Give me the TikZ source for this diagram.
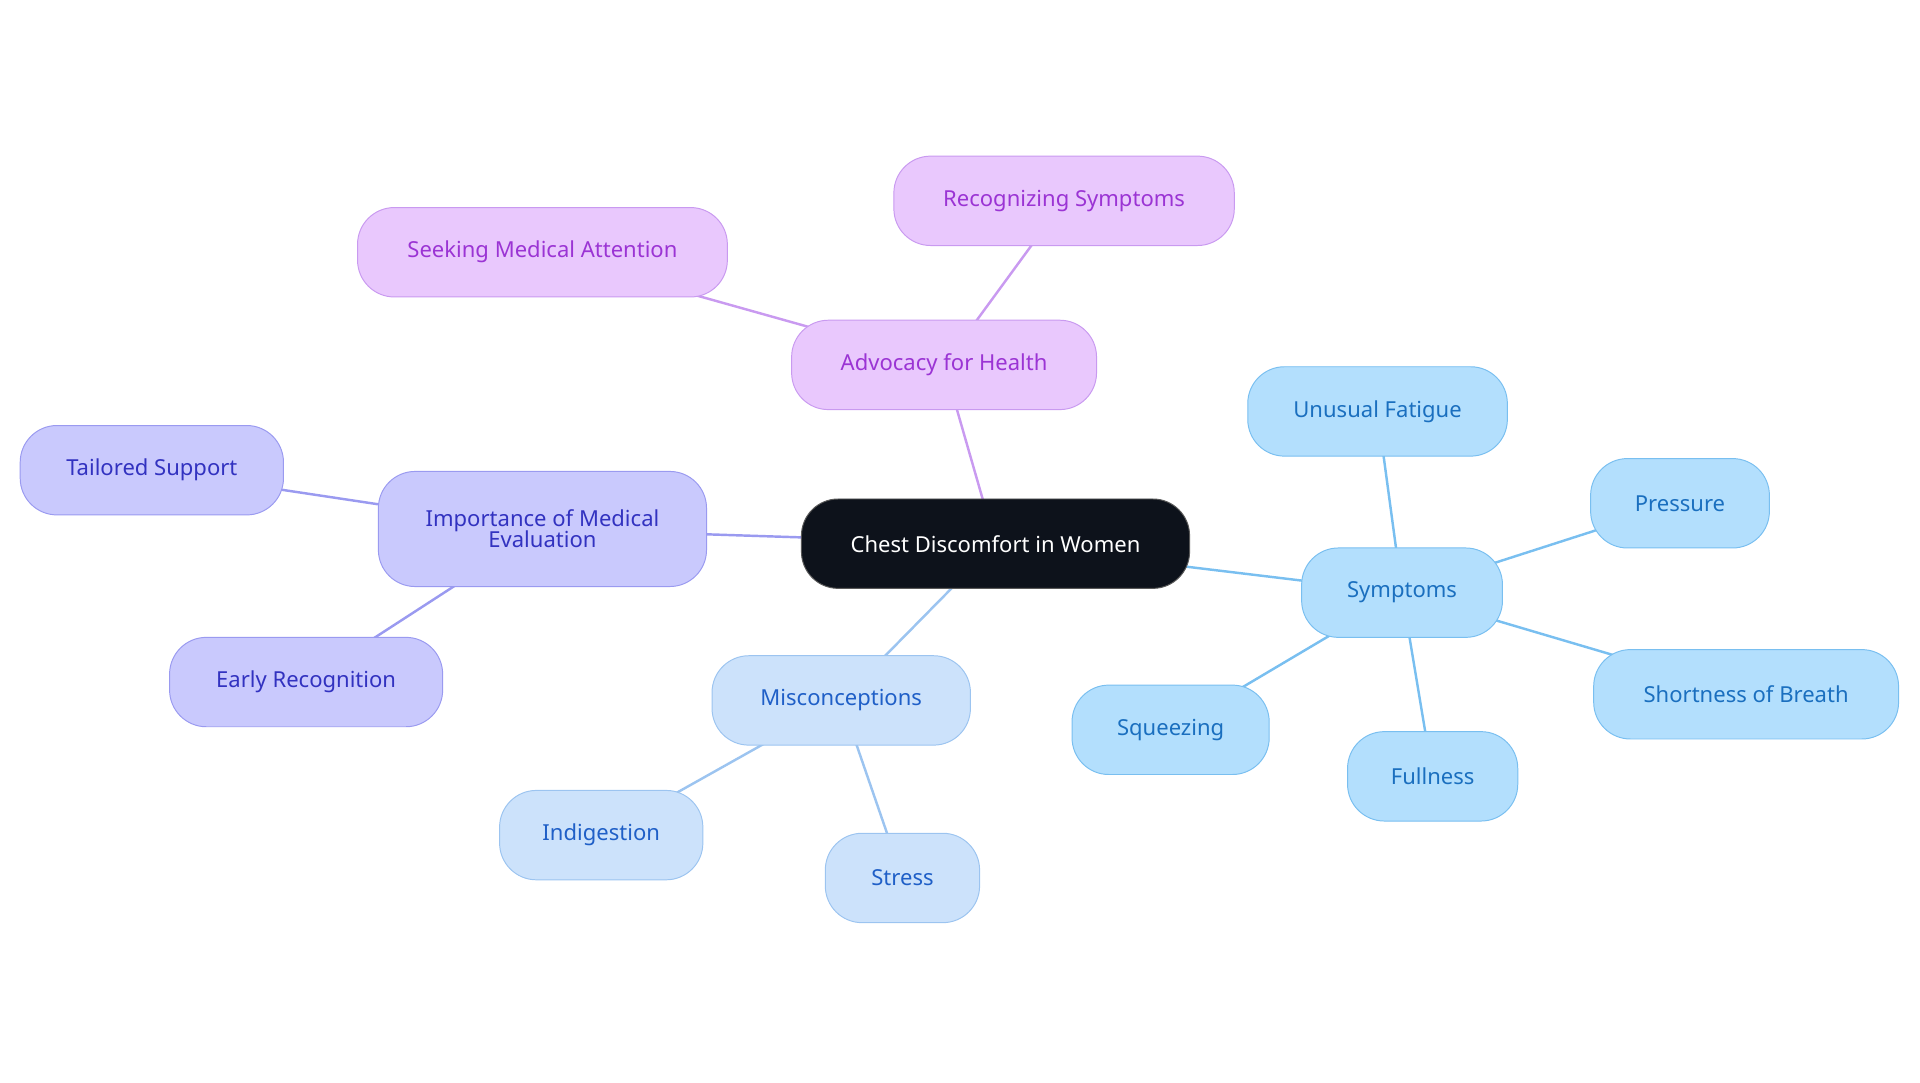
\documentclass[tikz,border=0pt]{standalone}
\usetikzlibrary{backgrounds}
\usepackage{fontspec}
\setmainfont{Noto Sans}
\definecolor{cdark}{HTML}{0D121B}
\definecolor{sfill}{HTML}{B3DFFD}\definecolor{sline}{HTML}{79BFF0}\definecolor{stext}{HTML}{1A6FBF}
\definecolor{mfill}{HTML}{CCE2FB}\definecolor{mline}{HTML}{9CC4F0}\definecolor{mtext}{HTML}{1F5FC7}
\definecolor{ifill}{HTML}{C9C9FD}\definecolor{iline}{HTML}{9A9AF0}\definecolor{itext}{HTML}{3232C0}
\definecolor{afill}{HTML}{E9C8FD}\definecolor{aline}{HTML}{C99AF0}\definecolor{atext}{HTML}{9B34D4}
\begin{document}
\begin{tikzpicture}[x=1pt,y=-1pt,
 base/.style={rounded corners=30pt,minimum height=73pt,font=\fontsize{18}{20}\selectfont,align=center,inner sep=0pt,line width=0.8pt},
 S/.style={base,fill=sfill,draw=sline,text=stext},
 M/.style={base,fill=mfill,draw=mline,text=mtext},
 I/.style={base,fill=ifill,draw=iline,text=itext},
 A/.style={base,fill=afill,draw=aline,text=atext},
 e/.style={line width=2pt}]
\useasboundingbox (0,0) rectangle (1568,884);
\node[base,fill=cdark,draw=gray!70!black,text=white,minimum width=317pt] (c) at (813,444) {Chest Discomfort in Women};
\node[S,minimum width=164pt] (s) at (1145,484) {Symptoms};
\node[S,minimum width=212pt] (s1) at (1125,336) {Unusual Fatigue};
\node[S,minimum width=146pt] (s2) at (1372,411) {Pressure};
\node[S,minimum width=249pt] (s3) at (1426,567) {Shortness of Breath};
\node[S,minimum width=139pt] (s4) at (1170,634) {Fullness};
\node[S,minimum width=161pt] (s5) at (956,596) {Squeezing};
\node[M,minimum width=211pt] (m) at (687,572) {Misconceptions};
\node[M,minimum width=166pt] (m1) at (491,682) {Indigestion};
\node[M,minimum width=126pt] (m2) at (737,717) {Stress};
\node[I,minimum width=268pt,minimum height=94pt] (i) at (443,432) {Importance of Medical\\[-3pt]Evaluation};
\node[I,minimum width=215pt] (i1) at (124,384) {Tailored Support};
\node[I,minimum width=223pt] (i2) at (250,557) {Early Recognition};
\node[A,minimum width=249pt] (a) at (771,298) {Advocacy for Health};
\node[A,minimum width=302pt] (a1) at (443,206) {Seeking Medical Attention};
\node[A,minimum width=278pt] (a2) at (869,164) {Recognizing Symptoms};
\begin{scope}[on background layer]
\draw[e,sline] (c.center) -- (s.center) (s.center) -- (s1.center) (s.center) -- (s2.center) (s.center) -- (s3.center) (s.center) -- (s4.center) (s.center) -- (s5.center);
\draw[e,mline] (c.center) -- (m.center) (m.center) -- (m1.center) (m.center) -- (m2.center);
\draw[e,iline] (c.center) -- (i.center) (i.center) -- (i1.center) (i.center) -- (i2.center);
\draw[e,aline] (c.center) -- (a.center) (a.center) -- (a1.center) (a.center) -- (a2.center);
\end{scope}
\end{tikzpicture}
\end{document}
